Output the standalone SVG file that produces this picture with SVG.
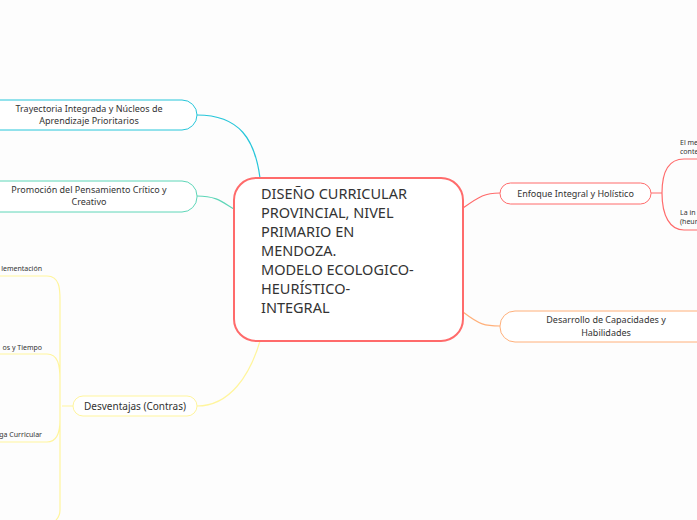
<svg xmlns="http://www.w3.org/2000/svg" width="697" height="520" viewBox="0 0 697 520">
<style>
text{font-family:"Noto Sans","Liberation Sans",sans-serif;fill:#333}
.s{font-size:9px}.xs{font-size:7px}.m{font-size:10px}
.c{fill:none;stroke-width:1.2}
</style>
<rect width="697" height="520" fill="#fdfdfd"/>
<g id="connectors">
<path class="c" stroke="#26c6da" d="M197,115 C240,115 255,140 260,178"/>
<path class="c" stroke="#5ed6b8" d="M197,196 C220,196 225,205 236,210"/>
<path class="c" stroke="#fff59d" d="M197,406 C230,406 250,375 260,341"/>
<path class="c" stroke="#fff59d" d="M73,406 H62 M47,276 C60,276 60,290 60,300 V510 C60,515 58,518 56,520 M47,354 C58,354 60,365 60,380 M47,442 C58,442 60,430 60,420"/>
<path class="c" stroke="#fff59d" d="M0,276 H47 M0,354 H47 M0,442 H47"/>
<path class="c" stroke="#ff6b6b" d="M463,208 C480,196 485,193 500,193"/>
<path class="c" stroke="#ffb07a" d="M463,312 C480,325 485,326 500,326"/>
<path class="c" stroke="#ff6b6b" d="M651,193 H662 M697,159 H684 C670,159 662,170 662,193 C662,216 670,230 684,230 H697"/>
</g>
<g id="center">
<rect x="234" y="178" width="229" height="163" rx="22" fill="#fff" stroke="#ff6b6b" stroke-width="2"/>
<text font-size="14.5"><tspan x="261" y="199">DISEÑO CURRICULAR</tspan><tspan x="261" y="218">PROVINCIAL, NIVEL</tspan><tspan x="261" y="237">PRIMARIO EN</tspan><tspan x="261" y="256">MENDOZA.</tspan><tspan x="261" y="275">MODELO ECOLOGICO-</tspan><tspan x="261" y="294">HEURÍSTICO-</tspan><tspan x="261" y="313">INTEGRAL</tspan></text>
</g>
<g id="n-trayectoria">
<rect x="-20" y="100" width="217" height="30" rx="15" fill="#fff" stroke="#26c6da"/>
<text class="s" text-anchor="middle"><tspan x="89" y="111.5">Trayectoria Integrada y Núcleos de</tspan><tspan x="89" y="124">Aprendizaje Prioritarios</tspan></text>
</g>
<g id="n-promocion">
<rect x="-20" y="181" width="217" height="31" rx="15" fill="#fff" stroke="#5ed6b8"/>
<text class="s" text-anchor="middle"><tspan x="89" y="192.5">Promoción del Pensamiento Crítico y</tspan><tspan x="89" y="205">Creativo</tspan></text>
</g>
<g id="n-desventajas">
<rect x="73" y="396" width="124" height="20" rx="10" fill="#fff" stroke="#fff59d"/>
<text class="m" x="135" y="409.5" text-anchor="middle">Desventajas (Contras)</text>
</g>
<g id="n-sub">
<text class="xs" x="42" y="271" text-anchor="end">lementación</text>
<text class="xs" x="42" y="350" text-anchor="end">os y Tiempo</text>
<text class="xs" x="42" y="437" text-anchor="end">ga Curricular</text>
</g>
<g id="n-enfoque">
<rect x="500" y="183" width="151" height="21" rx="10.5" fill="#fff" stroke="#ff6b6b"/>
<text class="s" x="575.5" y="196.5" text-anchor="middle">Enfoque Integral y Holístico</text>
</g>
<g id="n-desarrollo">
<rect x="500" y="311" width="217" height="31" rx="15" fill="#fff" stroke="#ffb07a"/>
<text class="s" text-anchor="middle"><tspan x="606" y="323">Desarrollo de Capacidades y</tspan><tspan x="606" y="335.5">Habilidades</tspan></text>
</g>
<g id="n-right">
<text class="xs"><tspan x="680" y="145">El me</tspan><tspan x="680" y="154">conte</tspan></text>
<text class="xs"><tspan x="680" y="215">La in</tspan><tspan x="680" y="224">(heur</tspan></text>
</g>
</svg>
